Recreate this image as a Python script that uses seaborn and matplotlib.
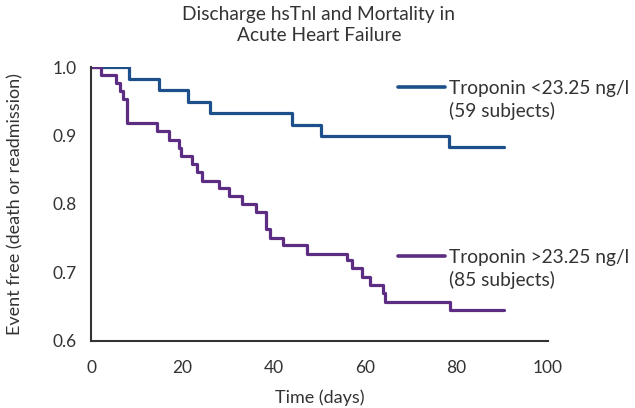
import pandas as pd
import seaborn as sns
import matplotlib.pyplot as plt
from matplotlib.lines import Line2D

# step times (days) and event-free fraction after each step
low_days = [0, 8.3, 14.9, 21.3, 26.0, 43.9, 50.3, 78.3, 90.4]
low_surv = [1.0, 0.983, 0.966, 0.949, 0.933, 0.916, 0.899, 0.883, 0.883]

high_days = [0, 2.1, 5.4, 6.3, 7.1, 7.9, 14.5, 17.1, 19.2, 19.8, 22.0, 23.1, 24.2,
             28.1, 30.2, 33.1, 36.1, 38.4, 39.2, 42.0, 47.3, 56.1, 57.2, 59.2,
             61.0, 64.0, 64.3, 78.6, 90.4]
high_surv = [1.0, 0.988, 0.976, 0.965, 0.953, 0.918, 0.906, 0.894, 0.882, 0.870,
             0.858, 0.846, 0.834, 0.823, 0.812, 0.800, 0.788, 0.763, 0.751, 0.740,
             0.727, 0.718, 0.706, 0.694, 0.682, 0.670, 0.657, 0.645, 0.645]

labels = ["Troponin <23.25 ng/l\n(59 subjects)", "Troponin >23.25 ng/l\n(85 subjects)"]
colors = ["#1d4f8a", "#5c2d83"]

TXT = "#333333"


def setup_style():
    sns.set_theme(style="white")
    plt.rcParams['font.family'] = ['Lato', 'DejaVu Sans']
    plt.rcParams['text.color'] = TXT
    plt.rcParams['axes.labelcolor'] = TXT


def plot_km():
    df = pd.concat([
        pd.DataFrame({'day': low_days, 'surv': low_surv, 'group': labels[0]}),
        pd.DataFrame({'day': high_days, 'surv': high_surv, 'group': labels[1]}),
    ])

    setup_style()
    fig = plt.figure(figsize=(6.35, 4.08), dpi=100)
    ax = fig.add_axes([91 / 635, 1 - 341 / 408, 457 / 635, 274 / 408])

    sns.lineplot(data=df, x='day', y='surv', hue='group', palette=colors,
                 estimator=None, sort=False, drawstyle='steps-post',
                 linewidth=2.3, legend=False, ax=ax)

    ax.set_xlim(0, 100)
    ax.set_ylim(0.6, 1.0)
    ax.set_xticks([0, 20, 40, 60, 80, 100])
    ax.set_yticks([0.6, 0.7, 0.8, 0.9, 1.0])
    ax.set_yticklabels(["0.6", "0.7", "0.8", "0.9", "1.0"])
    ax.tick_params(axis='both', length=0, labelsize=12.5, colors=TXT)
    ax.tick_params(axis='x', pad=14)
    ax.tick_params(axis='y', pad=10)

    for s in ['top', 'right']:
        ax.spines[s].set_visible(False)
    for s in ['left', 'bottom']:
        ax.spines[s].set_color('#333333')
        ax.spines[s].set_linewidth(1.5)

    ax.set_xlabel("Time (days)", fontsize=13)
    ax.set_ylabel("Event free (death or readmission)", fontsize=13)
    ax.xaxis.set_label_coords(0.5, -0.175)
    ax.yaxis.set_label_coords(-0.148, 0.5)

    fig.text(319 / 635, 1 - 6 / 408, "Discharge hsTnl and Mortality in\nAcute Heart Failure",
             ha='center', va='top', fontsize=13.8, linespacing=1.3)

    # legend keys placed beside the curve ends
    for lab, col, ypix in zip(labels, colors, [87, 256]):
        yf = 1 - ypix / 408
        fig.add_artist(Line2D([398 / 635, 445 / 635], [yf, yf], color=col,
                              linewidth=2.6, transform=fig.transFigure))
        fig.text(449 / 635, yf + 7 / 408, lab, ha='left', va='top',
                 fontsize=13.8, linespacing=1.35)

    fig.savefig("out.png", dpi=100)
    plt.close()


if __name__ == "__main__":
    plot_km()
